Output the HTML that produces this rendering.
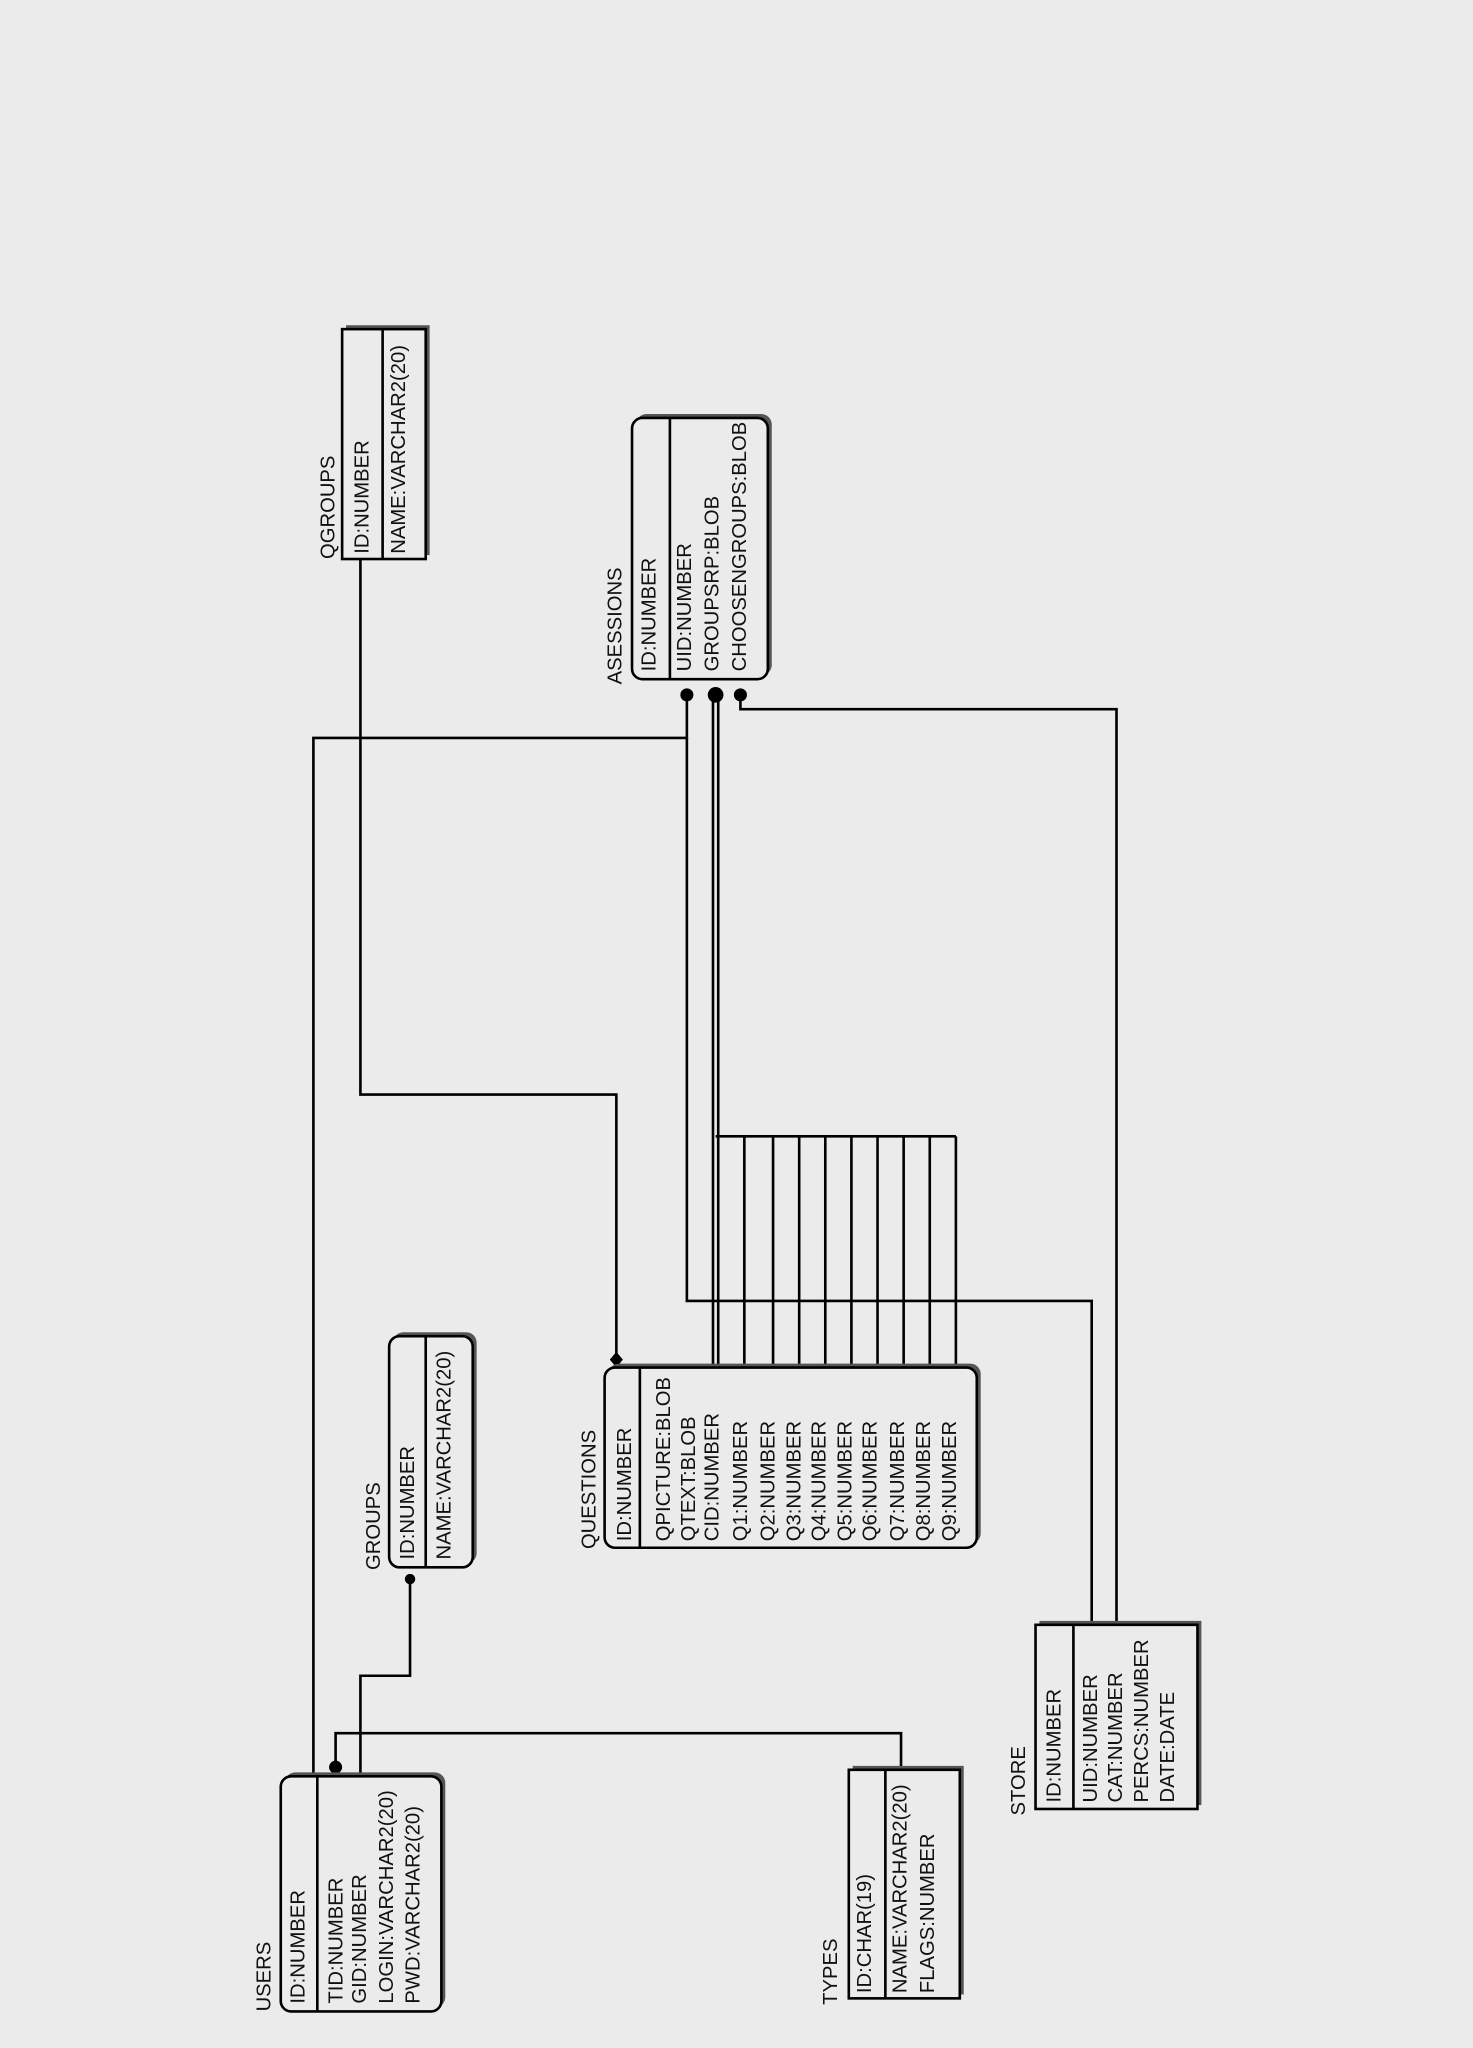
<!DOCTYPE html>
<html><head><meta charset="utf-8"><style>
html,body{margin:0;padding:0;background:#ebebeb;}
svg{display:block;}
text{font-family:"Liberation Sans",sans-serif;font-size:15.5px;fill:#111;}
</style></head><body>
<svg width="1473" height="2048" viewBox="0 0 1128 1568" preserveAspectRatio="none" xmlns="http://www.w3.org/2000/svg">
<rect width="1128" height="1568" fill="#ebebeb"/>
<g stroke="#000" stroke-width="2" fill="none">
<polyline points="276,428 276,838 472,838 472,1040"/>
<polyline points="526,532 526,565 240,565 240,1361"/>
<polyline points="526,565 526,996 836,996 836,1244"/>
<polyline points="567,532 567,543 855,543 855,1244"/>
<line x1="546" y1="532" x2="546" y2="1047"/>
<line x1="550" y1="532" x2="550" y2="1047"/>
<line x1="548" y1="870" x2="732" y2="870"/>
<line x1="570" y1="870" x2="570" y2="1047"/>
<line x1="592" y1="870" x2="592" y2="1047"/>
<line x1="612" y1="870" x2="612" y2="1047"/>
<line x1="632" y1="870" x2="632" y2="1047"/>
<line x1="652" y1="870" x2="652" y2="1047"/>
<line x1="672" y1="870" x2="672" y2="1047"/>
<line x1="692" y1="870" x2="692" y2="1047"/>
<line x1="712" y1="870" x2="712" y2="1047"/>
<line x1="732" y1="870" x2="732" y2="1047"/>
<polyline points="314,1210 314,1283 276,1283 276,1361"/>
<polyline points="257,1352 257,1327 690,1327 690,1355"/>
</g>
<g fill="#000">
<circle cx="526" cy="532" r="5"/><circle cx="548" cy="532" r="6"/><circle cx="567" cy="532" r="5"/>
<circle cx="314" cy="1209" r="4"/><circle cx="257" cy="1353" r="5"/>
<polygon points="472,1035 477,1041 472,1047 467,1041"/>
</g>
<g fill="#ebebeb" stroke="#000" stroke-width="2">
<rect x="265" y="249" width="64" height="176" fill="#555" stroke="none"/>
<rect x="262" y="252" width="64" height="176"/>
<line x1="293" y1="252" x2="293" y2="428"/>
<rect x="487" y="317" width="104" height="200" rx="8" fill="#555" stroke="none"/>
<rect x="484" y="320" width="104" height="200" rx="8"/>
<line x1="513" y1="320" x2="513" y2="520"/>
<rect x="466" y="1044" width="285" height="138" rx="8" fill="#555" stroke="none"/>
<rect x="463" y="1047" width="285" height="138" rx="8"/>
<line x1="490" y1="1047" x2="490" y2="1185"/>
<rect x="301" y="1020" width="64" height="177" rx="8" fill="#555" stroke="none"/>
<rect x="298" y="1023" width="64" height="177" rx="8"/>
<line x1="326" y1="1023" x2="326" y2="1200"/>
<rect x="218" y="1357" width="123" height="180" rx="8" fill="#555" stroke="none"/>
<rect x="215" y="1360" width="123" height="180" rx="8"/>
<line x1="243" y1="1360" x2="243" y2="1540"/>
<rect x="653" y="1352" width="85" height="175" fill="#555" stroke="none"/>
<rect x="650" y="1355" width="85" height="175"/>
<line x1="678" y1="1355" x2="678" y2="1530"/>
<rect x="796" y="1241" width="124" height="141" fill="#555" stroke="none"/>
<rect x="793" y="1244" width="124" height="141"/>
<line x1="822" y1="1244" x2="822" y2="1385"/>
</g>
<g dominant-baseline="middle">
<text transform="translate(252,428) rotate(-90)">QGROUPS</text>
<text transform="translate(278,424) rotate(-90)">ID:NUMBER</text>
<text transform="translate(306,424) rotate(-90)">NAME:VARCHAR2(20)</text>

<text transform="translate(472,524) rotate(-90)">ASESSIONS</text>
<text transform="translate(498,514) rotate(-90)">ID:NUMBER</text>
<text transform="translate(525,514) rotate(-90)">UID:NUMBER</text>
<text transform="translate(546,514) rotate(-90)">GROUPSRP:BLOB</text>
<text transform="translate(567,514) rotate(-90)">CHOOSENGROUPS:BLOB</text>

<text transform="translate(452,1186) rotate(-90)">QUESTIONS</text>
<text transform="translate(479,1180) rotate(-90)">ID:NUMBER</text>
<text transform="translate(509,1180) rotate(-90)">QPICTURE:BLOB</text>
<text transform="translate(528,1180) rotate(-90)">QTEXT:BLOB</text>
<text transform="translate(546,1180) rotate(-90)">CID:NUMBER</text>
<text transform="translate(568,1180) rotate(-90)">Q1:NUMBER</text>
<text transform="translate(589,1180) rotate(-90)">Q2:NUMBER</text>
<text transform="translate(609,1180) rotate(-90)">Q3:NUMBER</text>
<text transform="translate(628,1180) rotate(-90)">Q4:NUMBER</text>
<text transform="translate(648,1180) rotate(-90)">Q5:NUMBER</text>
<text transform="translate(667,1180) rotate(-90)">Q6:NUMBER</text>
<text transform="translate(688,1180) rotate(-90)">Q7:NUMBER</text>
<text transform="translate(708,1180) rotate(-90)">Q8:NUMBER</text>
<text transform="translate(728,1180) rotate(-90)">Q9:NUMBER</text>

<text transform="translate(287,1202) rotate(-90)">GROUPS</text>
<text transform="translate(313,1194) rotate(-90)">ID:NUMBER</text>
<text transform="translate(341,1194) rotate(-90)">NAME:VARCHAR2(20)</text>

<text transform="translate(203,1540) rotate(-90)">USERS</text>
<text transform="translate(229,1534) rotate(-90)">ID:NUMBER</text>
<text transform="translate(258,1534) rotate(-90)">TID:NUMBER</text>
<text transform="translate(276,1534) rotate(-90)">GID:NUMBER</text>
<text transform="translate(297,1534) rotate(-90)">LOGIN:VARCHAR2(20)</text>
<text transform="translate(317,1534) rotate(-90)">PWD:VARCHAR2(20)</text>

<text transform="translate(637,1535) rotate(-90)">TYPES</text>
<text transform="translate(663,1526) rotate(-90)">ID:CHAR(19)</text>
<text transform="translate(690,1526) rotate(-90)">NAME:VARCHAR2(20)</text>
<text transform="translate(711,1526) rotate(-90)">FLAGS:NUMBER</text>

<text transform="translate(781,1390) rotate(-90)">STORE</text>
<text transform="translate(808,1380) rotate(-90)">ID:NUMBER</text>
<text transform="translate(836,1380) rotate(-90)">UID:NUMBER</text>
<text transform="translate(855,1380) rotate(-90)">CAT:NUMBER</text>
<text transform="translate(875,1380) rotate(-90)">PERCS:NUMBER</text>
<text transform="translate(895,1380) rotate(-90)">DATE:DATE</text>
</g>
</svg>
</body></html>
